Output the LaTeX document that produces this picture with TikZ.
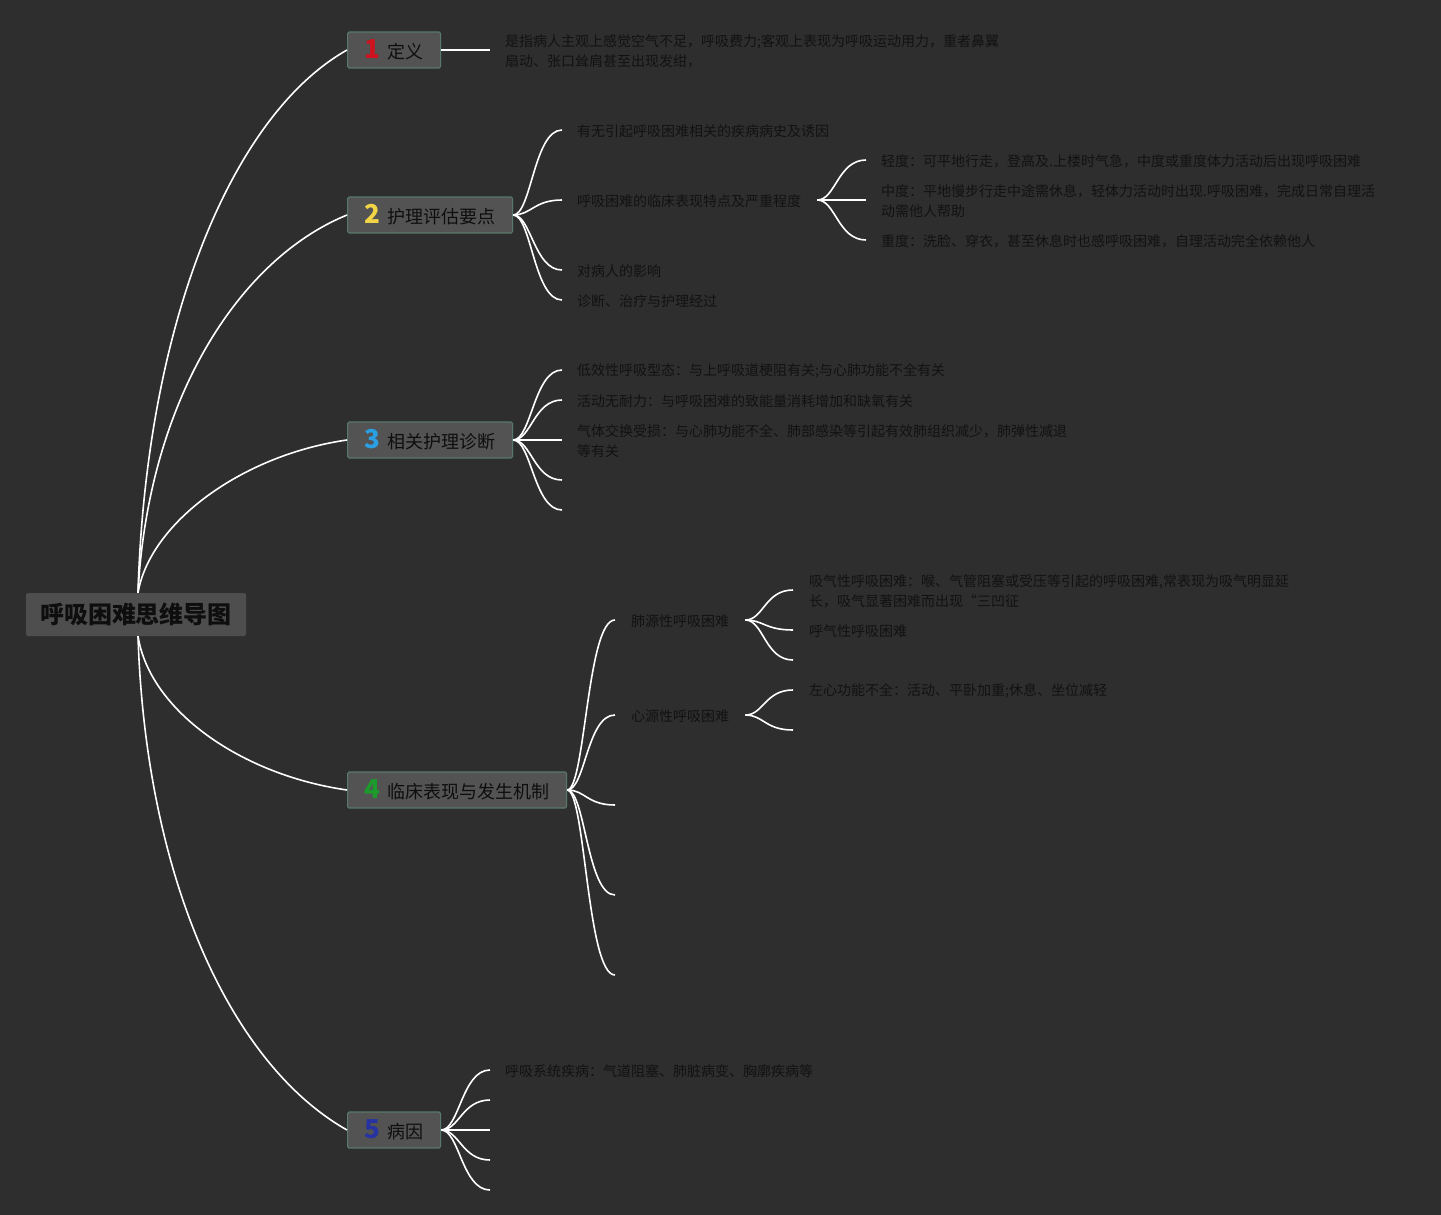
\documentclass[tikz,border=0pt]{standalone}
\usepackage{fontspec}
\setmainfont{Noto Sans CJK SC}
\usetikzlibrary{calc}
\definecolor{bg}{HTML}{2E2E2E}
\definecolor{boxc}{HTML}{535353}
\definecolor{rootc}{HTML}{4E4E4E}
\definecolor{bord}{HTML}{587A6A}
\definecolor{leafc}{HTML}{121212}
\definecolor{txtc}{HTML}{0E0E0E}
\definecolor{nA}{HTML}{D0121E}
\definecolor{nB}{HTML}{F2D546}
\definecolor{nC}{HTML}{2A9FE2}
\definecolor{nD}{HTML}{1C9A2C}
\definecolor{nE}{HTML}{2633A0}
\newcommand{\numf}[2]{{\fontsize{26}{26}\selectfont\bfseries\color{#1}#2}\hspace{7pt}}
\begin{document}
\begin{tikzpicture}[x=1pt,y=-1pt,
  conn/.style={draw=white, line width=1.6pt},
  fancurve/.style={to path={.. controls ($(\tikztostart)+(18,0)$) and ($(\tikztotarget)+(-28,0)$) .. (\tikztotarget)}},
  leaf/.style={anchor=west, inner sep=0pt, text=leafc, font=\fontsize{14}{20}\selectfont, align=left},
  branch/.style={draw=bord, fill=boxc, line width=1.2pt, rounded corners=1.5pt, minimum height=36pt, anchor=west, inner sep=0pt, text=txtc, font=\fontsize{18}{22}\selectfont},
  rootbox/.style={fill=rootc, rounded corners=2pt, minimum width=220pt, minimum height=43pt, inner sep=0pt, text=txtc, font=\fontsize{24}{28}\selectfont\bfseries}]
\fill[bg] (0,0) rectangle (1441,1215);
\useasboundingbox (0,0) rectangle (1441,1215);

% root and main branches
\node[rootbox] (root) at (136,614.5) {呼吸困难思维导图};
\node[branch, minimum width=93pt] (b1) at (347,50) {\numf{nA}{1}定义};
\node[branch, minimum width=165pt] (b2) at (347,215) {\numf{nB}{2}护理评估要点};
\node[branch, minimum width=165pt] (b3) at (347,440) {\numf{nC}{3}相关护理诊断};
\node[branch, minimum width=219pt] (b4) at (347,790) {\numf{nD}{4}临床表现与发生机制};
\node[branch, minimum width=93pt] (b5) at (347,1130) {\numf{nE}{5}病因};

\coordinate (rtop) at ($(root.north)+(2,0)$);
\coordinate (rbot) at ($(root.south)+(2,0)$);
\draw[conn] (rtop) .. controls ($(rtop)+(8,-270)$) and ($(b1.west)+(-115,65)$) .. (b1.west);
\draw[conn] (rtop) .. controls ($(rtop)+(10,-190)$) and ($(b2.west)+(-110,45)$) .. (b2.west);
\draw[conn] (rtop) .. controls ($(rtop)+(12,-70)$) and ($(b3.west)+(-105,15)$) .. (b3.west);
\draw[conn] (rbot) .. controls ($(rbot)+(12,75)$) and ($(b4.west)+(-105,-15)$) .. (b4.west);
\draw[conn] (rbot) .. controls ($(rbot)+(8,245)$) and ($(b5.west)+(-115,-65)$) .. (b5.west);

% branch 1
\coordinate (e11) at (490,50);
\draw[conn] (b1.east) -- (e11);
\node[leaf] (t11) at ($(e11)+(15,1)$) {是指病人主观上感觉空气不足，呼吸费力;客观上表现为呼吸运动用力，重者鼻翼\\扇动、张口耸肩甚至出现发绀，};

% branch 2
\coordinate (e21) at (562,130);
\coordinate (e22) at (562,200);
\coordinate (e23) at (562,270);
\coordinate (e24) at (562,300);
\foreach \e in {e21,e22,e23,e24} \draw[conn] (b2.east) to[fancurve] (\e);
\node[leaf] (t21) at ($(e21)+(15,1)$) {有无引起呼吸困难相关的疾病病史及诱因};
\node[leaf] (t22) at ($(e22)+(15,1)$) {呼吸困难的临床表现特点及严重程度};
\node[leaf] (t23) at ($(e23)+(15,1)$) {对病人的影响};
\node[leaf] (t24) at ($(e24)+(15,1)$) {诊断、治疗与护理经过};
\coordinate (s22) at ($(t22.east)+(16,-1)$);
\coordinate (f1) at (866,160);
\coordinate (f2) at (866,200);
\coordinate (f3) at (866,240);
\foreach \e in {f1,f2,f3} \draw[conn] (s22) to[fancurve] (\e);
\node[leaf] (g1) at ($(f1)+(15,1)$) {轻度：可平地行走，登高及.上楼时气急，中度或重度体力活动后出现呼吸困难};
\node[leaf] (g2) at ($(f2)+(15,1)$) {中度：平地慢步行走中途需休息，轻体力活动时出现.呼吸困难，完成日常自理活\\动需他人帮助};
\node[leaf] (g3) at ($(f3)+(15,1)$) {重度：洗脸、穿衣，甚至休息时也感呼吸困难，自理活动完全依赖他人};

% branch 3
\coordinate (e31) at (562,370);
\coordinate (e32) at (562,400);
\coordinate (e33) at (562,440);
\coordinate (e34) at (562,480);
\coordinate (e35) at (562,510);
\foreach \e in {e31,e32,e33,e34,e35} \draw[conn] (b3.east) to[fancurve] (\e);
\node[leaf] (t31) at ($(e31)+(15,1)$) {低效性呼吸型态：与上呼吸道梗阻有关;与心肺功能不全有关};
\node[leaf] (t32) at ($(e32)+(15,1)$) {活动无耐力：与呼吸困难的致能量消耗增加和缺氧有关};
\node[leaf] (t33) at ($(e33)+(15,1)$) {气体交换受损：与心肺功能不全、肺部感染等引起有效肺组织减少，肺弹性减退\\等有关};

% branch 4
\coordinate (e41) at (615,620);
\coordinate (e42) at (615,715);
\coordinate (e43) at (615,805);
\coordinate (e44) at (615,895);
\coordinate (e45) at (615,975);
\foreach \e in {e41,e42,e43,e44,e45} \draw[conn] (b4.east) to[fancurve] (\e);
\node[leaf] (t41) at ($(e41)+(16,1)$) {肺源性呼吸困难};
\node[leaf] (t42) at ($(e42)+(16,1)$) {心源性呼吸困难};
\coordinate (s41) at ($(t41.east)+(16,-1)$);
\coordinate (s42) at ($(t42.east)+(16,-1)$);
\coordinate (h1) at (793,590);
\coordinate (h2) at (793,630);
\coordinate (h3) at (793,660);
\coordinate (h4) at (793,690);
\coordinate (h5) at (793,730);
\foreach \e in {h1,h2,h3} \draw[conn] (s41) to[fancurve] (\e);
\foreach \e in {h4,h5} \draw[conn] (s42) to[fancurve] (\e);
\node[leaf] (k1) at ($(h1)+(16,1)$) {吸气性呼吸困难：喉、气管阻塞或受压等引起的呼吸困难,常表现为吸气明显延\\长，吸气显著困难而出现“三凹征};
\node[leaf] (k2) at ($(h2)+(16,1)$) {呼气性呼吸困难};
\node[leaf] (k4) at ($(h4)+(16,1)$) {左心功能不全：活动、平卧加重;休息、坐位减轻};

% branch 5
\coordinate (e51) at (490,1070);
\coordinate (e52) at (490,1100);
\coordinate (e53) at (490,1130);
\coordinate (e54) at (490,1160);
\coordinate (e55) at (490,1190);
\foreach \e in {e51,e52,e53,e54,e55} \draw[conn] (b5.east) to[fancurve] (\e);
\node[leaf] (t51) at ($(e51)+(15,1)$) {呼吸系统疾病：气道阻塞、肺脏病变、胸廓疾病等};
\end{tikzpicture}
\end{document}
